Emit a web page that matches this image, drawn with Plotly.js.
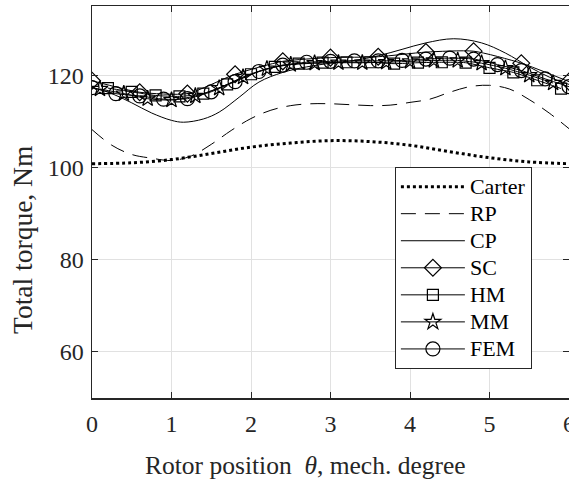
<!DOCTYPE html>
<html>
<head>
<meta charset="utf-8">
<script src="https://cdn.plot.ly/plotly-3.0.1.min.js"></script>
<style>html,body{margin:0;padding:0;overflow:hidden;background:#fff}</style>
</head>
<body>
<div id="chart"></div>
<script>
// Carter
const carterX = [0,0.5,1,1.5,2,2.5,3,3.5,4,4.5,5,5.5,6];
const carterY = [100.8,101.0,101.7,103.0,104.4,105.3,105.8,105.6,104.8,103.4,102.1,101.2,100.8];
// RP
const rpX = [0,0.25,0.5,0.75,1,1.25,1.5,1.75,2,2.25,2.5,2.75,3,3.25,3.5,3.75,4,4.25,4.5,4.75,5,5.25,5.5,5.75,6];
const rpY = [108.2,104.8,102.8,102.0,101.5,102.5,105.0,108.0,110.6,112.4,113.4,113.8,113.8,113.6,113.4,113.5,114.1,114.8,116.3,117.5,117.8,117.0,114.7,111.8,108.4];
// CP
const cpX = [0,0.25,0.5,0.75,1,1.15,1.4,1.6,1.85,2.1,2.4,2.7,3,3.3,3.6,3.9,4.2,4.55,4.9,5.2,5.5,5.75,6];
const cpY = [117.4,116.0,114.0,111.8,110.2,109.8,110.5,112.0,115.2,118.5,120.6,121.8,122.6,123.2,124.2,125.6,127.0,127.9,127.0,124.8,121.8,119.6,118.0];
// SC
const scX = [0,0.6,1.2,1.8,2.4,3.0,3.6,4.2,4.8,5.4,6.0];
const scY = [118.8,116.3,116.0,120.2,123.0,123.8,124.0,125.0,125.2,122.6,118.6];
// HM
const hmX = [0.2,0.5,0.8,1.1,1.4,1.7,2.0,2.3,2.6,2.9,3.2,3.5,3.8,4.1,4.4,4.7,5.0,5.3,5.6,5.9];
const hmY = [117.2,116.4,115.6,115.4,116.0,118.0,120.2,121.8,122.5,122.7,122.8,122.8,122.5,122.7,122.8,122.7,121.6,120.6,118.9,117.1];
// MM
const mmX = [0.1,0.4,0.7,1.0,1.3,1.6,1.9,2.2,2.5,2.8,3.1,3.4,3.7,4.0,4.3,4.6,4.9,5.2,5.5,5.8];
const mmY = [117.0,116.0,114.9,114.6,115.5,117.2,119.6,121.4,122.3,122.6,122.7,122.7,122.8,123.0,123.2,123.2,122.6,121.5,120.0,118.3];
// FEM
const femX = [0,0.3,0.6,0.9,1.2,1.5,1.8,2.1,2.4,2.7,3.0,3.3,3.6,3.9,4.2,4.5,4.8,5.1,5.4,5.7,6.0];
const femY = [117.3,116.0,115.5,114.8,114.9,116.4,118.6,120.8,122.2,122.8,123.0,123.1,123.1,123.2,123.5,123.7,123.5,122.3,121.0,119.2,117.5];

const seriesNames = ['Carter','RP','CP','SC','HM','MM','FEM'];
const xTicks = [0,1,2,3,4,5,6];
const yTicks = [60,80,100,120];
const xTitle = 'Rotor position  <i>θ</i>, mech. degree';
const yTitle = 'Total torque, Nm';

const F = 'Liberation Serif';
const nm = s => '<span style="font-size:22px">' + s + '</span>';
function mk(i, x, y, sym, size) {
  return {x:x, y:y, name:nm(seriesNames[i]), type:'scatter', mode:'lines+markers',
    line:{color:'#000', width:1, shape:'spline', smoothing:0.6},
    marker:{symbol:sym, size:size, color:'#000', line:{color:'#000', width:1.2}}};
}
const traces = [
  {x:carterX, y:carterY, name:nm(seriesNames[0]), type:'scatter', mode:'lines', line:{color:'#000', width:3, dash:'3px,3px', shape:'spline'}},
  {x:rpX, y:rpY, name:nm(seriesNames[1]), type:'scatter', mode:'lines', line:{color:'#000', width:1, dash:'15px,9px', shape:'spline'}},
  {x:cpX, y:cpY, name:nm(seriesNames[2]), type:'scatter', mode:'lines', line:{color:'#000', width:1, shape:'spline'}},
  mk(3, scX, scY, 'diamond-open', 13),
  mk(4, hmX, hmY, 'square-open', 11),
  mk(5, mmX, mmY, 'star-open', 12),
  mk(6, femX, femY, 'circle-open', 14)
];
const axisCommon = {
  showline:true, linecolor:'#262626', linewidth:1.5, mirror:'all',
  ticks:'inside', ticklen:6, tickwidth:1, tickcolor:'#262626',
  showgrid:true, gridcolor:'#e1e1e1', gridwidth:1, zeroline:false,
  tickfont:{family:F, size:24, color:'#262626'}
};
const layout = {
  width:585, height:481, autosize:false,
  margin:{l:92, r:16, t:6, b:83},
  paper_bgcolor:'#fff', plot_bgcolor:'#fff',
  showlegend:true,
  font:{family:F, color:'#262626'},
  xaxis:Object.assign({}, axisCommon, {range:[0,6], tickvals:xTicks, ticktext:xTicks.map(String), ticklabelstandoff:4}),
  yaxis:Object.assign({}, axisCommon, {range:[50,135], tickvals:yTicks, ticktext:yTicks.map(String), ticklabelstandoff:2}),
  annotations:[
    {text:xTitle, xref:'paper', yref:'paper', x:0.447, y:-0.171, xanchor:'center', yanchor:'middle', showarrow:false,
      font:{family:F, size:25.5, color:'#262626'}},
    {text:yTitle, xref:'paper', yref:'paper', x:-0.147, y:0.403, xanchor:'center', yanchor:'middle', textangle:-90, showarrow:false,
      font:{family:F, size:27.5, color:'#262626'}}
  ],
  legend:{x:0.635, y:0.589, xanchor:'left', yanchor:'top', bgcolor:'#fff', bordercolor:'#262626', borderwidth:1,
    font:{family:F, size:18.5, color:'#000'}, tracegroupgap:0, itemwidth:64}
};
Plotly.newPlot('chart', traces, layout, {displayModeBar:false, staticPlot:true});
</script>
</body>
</html>
